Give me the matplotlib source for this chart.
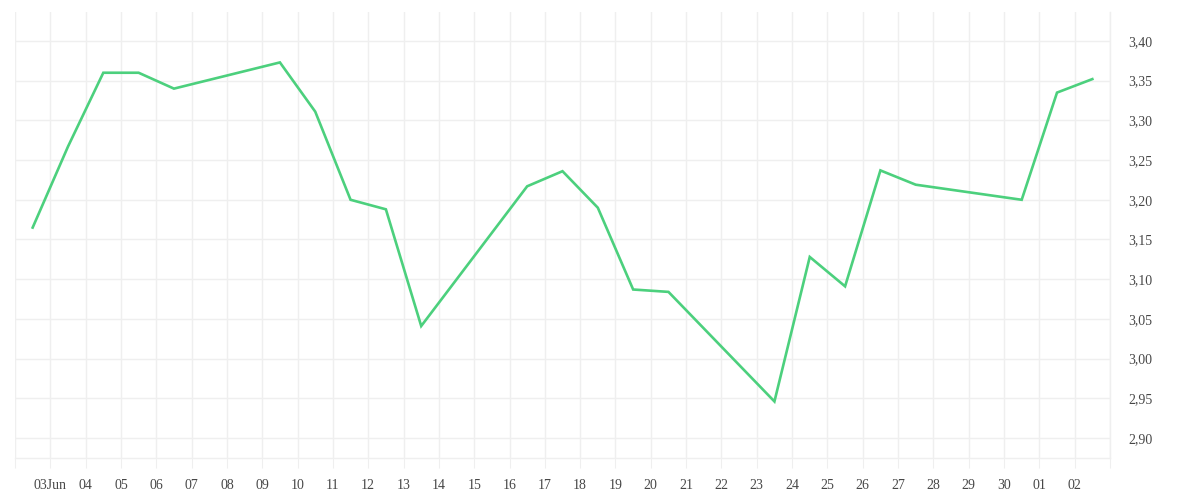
import matplotlib.pyplot as plt
import matplotlib.dates as mdates
import pandas as pd

dates = ['2024-06-03', '2024-06-04', '2024-06-05', '2024-06-06', '2024-06-07',
         '2024-06-10', '2024-06-11', '2024-06-12', '2024-06-13', '2024-06-14',
         '2024-06-17', '2024-06-18', '2024-06-19', '2024-06-20', '2024-06-21',
         '2024-06-24', '2024-06-25', '2024-06-26', '2024-06-27', '2024-06-28',
         '2024-07-01', '2024-07-02', '2024-07-03']
prices = [3.165, 3.267, 3.360, 3.360, 3.340,
          3.373, 3.311, 3.200, 3.188, 3.041,
          3.217, 3.236, 3.190, 3.087, 3.084,
          2.946, 3.128, 3.091, 3.237, 3.219,
          3.200, 3.335, 3.352]
y_ticks = [2.90, 2.95, 3.00, 3.05, 3.10, 3.15, 3.20, 3.25, 3.30, 3.35, 3.40]

grid_col = '#efefef'
text_col = '#474747'
line_col = '#4cd07d'

# points sit half a day before the day gridline
x = pd.to_datetime(dates) - pd.Timedelta(hours=12)

fig = plt.figure(figsize=(12, 5), dpi=100)
ax = fig.add_axes([15 / 1200, 42 / 500, 1095 / 1200, 446 / 500])

ax.plot(x, prices, color=line_col, linewidth=1.9, solid_joinstyle='miter', zorder=3)

ax.set_xlim(pd.Timestamp('2024-06-02'), pd.Timestamp('2024-07-03'))
ax.set_ylim(2.8748, 3.4365)

days = pd.date_range('2024-06-02', '2024-07-03', freq='D')
labels = []
for d in days:
    if d == days[0] or d == days[-1]:
        labels.append('')
    elif d.day == 3 and d.month == 6:
        labels.append('03Jun')
    else:
        labels.append(d.strftime('%d'))
ax.set_xticks(days)
ax.set_xticklabels(labels)

ax.yaxis.tick_right()
ax.set_yticks(y_ticks)
ax.set_yticklabels([f'{v:.2f}'.replace('.', ',') for v in y_ticks])

ax.grid(True, color=grid_col, linewidth=1)
ax.set_axisbelow(True)

for s in ['top', 'left']:
    ax.spines[s].set_visible(False)
for s in ['right', 'bottom']:
    ax.spines[s].set_color(grid_col)
    ax.spines[s].set_linewidth(1)

ax.tick_params(axis='x', length=7.5, color=grid_col, pad=7.5, labelsize=10,
               labelcolor=text_col)
ax.tick_params(axis='y', length=0, pad=13, labelsize=10, labelcolor=text_col)
for lbl in ax.get_xticklabels() + ax.get_yticklabels():
    lbl.set_fontfamily('Liberation Serif')
for lbl in ax.get_yticklabels():
    lbl.set_horizontalalignment('left')

fig.savefig('out.png', dpi=100)
